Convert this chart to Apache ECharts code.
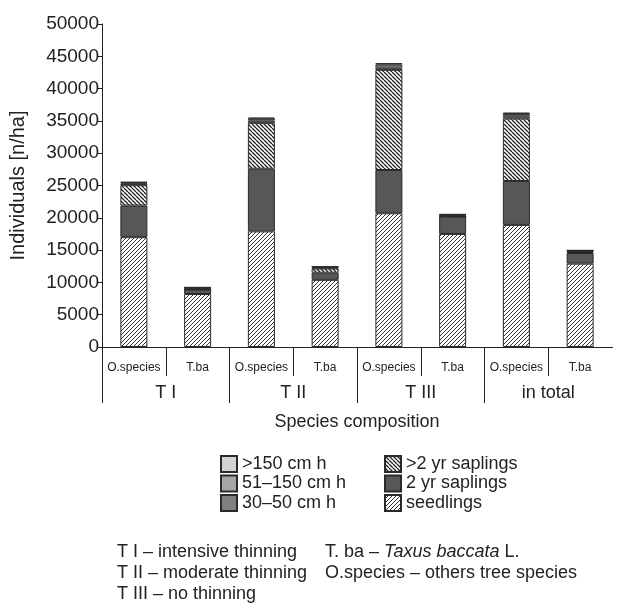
<!DOCTYPE html>
<html><head><meta charset="utf-8">
<script src="https://cdn.jsdelivr.net/npm/echarts@6/dist/echarts.min.js"></script>
<style>html,body{margin:0;padding:0;background:#fff}#c{width:624px;height:605px}</style>
</head><body><div id="c"></div>
<script>
const speciesCats = ['O.species','T.ba','O.species','T.ba','O.species','T.ba','O.species','T.ba'];
const groupCats = ['T I','T II','T III','in total'];
const yTicks = {min:0, max:50000, interval:5000};
const seedlings   = [17000, 8200, 17900, 10400, 20700, 17500, 18900, 12900];
const saplings2   = [4900, 700, 9700, 1100, 6700, 2700, 6800, 1650];
const saplingsGt2 = [3150, 0, 7100, 650, 15500, 0, 9650, 150];
const h30_50      = [250, 200, 350, 150, 350, 200, 350, 150];
const h51_150     = [150, 100, 300, 100, 450, 100, 350, 80];
const hGt150      = [100, 50, 150, 50, 250, 50, 250, 50];

function hatch(dir, s, lw, col){
  const c=document.createElement('canvas'); c.width=s; c.height=s;
  const g=c.getContext('2d'); g.fillStyle='#fff'; g.fillRect(0,0,s,s);
  g.strokeStyle=col; g.lineWidth=lw; g.beginPath();
  for(let k=-1;k<=1;k++){
    if(dir==='/'){ g.moveTo(k*s, s); g.lineTo(k*s+s, 0); }
    else { g.moveTo(k*s, 0); g.lineTo(k*s+s, s); }
  }
  g.stroke(); return {image:c, repeat:'repeat'};
}
const FONT = "'Liberation Sans', Arial, sans-serif";
const border = {borderColor:'#2a2a2a', borderWidth:1};
function ser(name, data, color){
  return {name, type:'bar', stack:'a', data, barWidth:27, itemStyle:Object.assign({color}, border), emphasis:{disabled:true}};
}
const chart = echarts.init(document.getElementById('c'), null, {renderer:'canvas'});
chart.setOption({
  animation:false,
  textStyle:{fontFamily:FONT},
  grid:{left:100, right:12, top:24, bottom:258},
  xAxis:[{
    type:'category', data:speciesCats, position:'bottom',
    axisLine:{lineStyle:{color:'#222', width:1}},
    axisTick:{show:true, interval:0, length:29, lineStyle:{color:'#222'}},
    axisLabel:{interval:0, margin:15, fontSize:12, color:'#222', fontFamily:FONT}
  },{
    type:'category', data:groupCats, position:'bottom', gridIndex:0,
    axisLine:{show:false},
    axisTick:{show:true, interval:0, length:56, lineStyle:{color:'#222'}},
    axisLabel:{interval:0, margin:37, fontSize:18, color:'#222', fontFamily:FONT},
    name:'Species composition', nameLocation:'middle', nameGap:66,
    nameTextStyle:{fontSize:18, color:'#222', fontFamily:FONT}
  }],
  yAxis:{
    type:'value', min:yTicks.min, max:yTicks.max, interval:yTicks.interval,
    axisLine:{show:true, lineStyle:{color:'#222'}},
    axisTick:{show:true, length:4, lineStyle:{color:'#222'}},
    splitLine:{show:false},
    axisLabel:{fontSize:19, color:'#222', margin:3, fontFamily:FONT, formatter:v=>String(v)},
    name:'Individuals [n/ha]', nameLocation:'middle', nameGap:74,
    nameTextStyle:{fontSize:20, color:'#222', fontFamily:FONT}
  },
  legend:[{
    orient:'vertical', left:215, top:450, itemWidth:16, itemHeight:16, itemGap:1.5, icon:'rect',
    textStyle:{fontSize:18, color:'#222', fontFamily:FONT},
    data:['>150 cm h','51–150 cm h','30–50 cm h'], selectedMode:false
  },{
    orient:'vertical', left:379, top:450, itemWidth:16, itemHeight:16, itemGap:1.5, icon:'rect',
    textStyle:{fontSize:18, color:'#222', fontFamily:FONT},
    data:['>2 yr saplings','2 yr saplings','seedlings'], selectedMode:false
  }],
  graphic:[
    {type:'rect', shape:{x:610, y:348, width:6, height:60}, style:{fill:'#fff'}, z:100},
    {type:'text', left:117, top:543, style:{text:'T I – intensive thinning', font:'18px '+FONT, fill:'#222'}},
    {type:'text', left:117, top:564, style:{text:'T II – moderate thinning', font:'18px '+FONT, fill:'#222'}},
    {type:'text', left:117, top:585, style:{text:'T III – no thinning', font:'18px '+FONT, fill:'#222'}},
    {type:'text', left:325, top:543, style:{text:'T. ba – {i|Taxus baccata} L.', font:'18px '+FONT, fill:'#222',
      rich:{i:{fontStyle:'italic', fontSize:18, fontFamily:FONT, fill:'#222'}}}},
    {type:'text', left:325, top:564, style:{text:'O.species – others tree species', font:'18px '+FONT, fill:'#222'}}
  ],
  series:[
    ser('seedlings', seedlings, hatch('/',4,1,'#333')),
    ser('2 yr saplings', saplings2, '#555759'),
    ser('>2 yr saplings', saplingsGt2, hatch('\\',4,1.3,'#222')),
    ser('30–50 cm h', h30_50, '#808080'),
    ser('51–150 cm h', h51_150, '#a6a6a6'),
    ser('>150 cm h', hGt150, '#d4d4d4')
  ]
});
</script></body></html>
